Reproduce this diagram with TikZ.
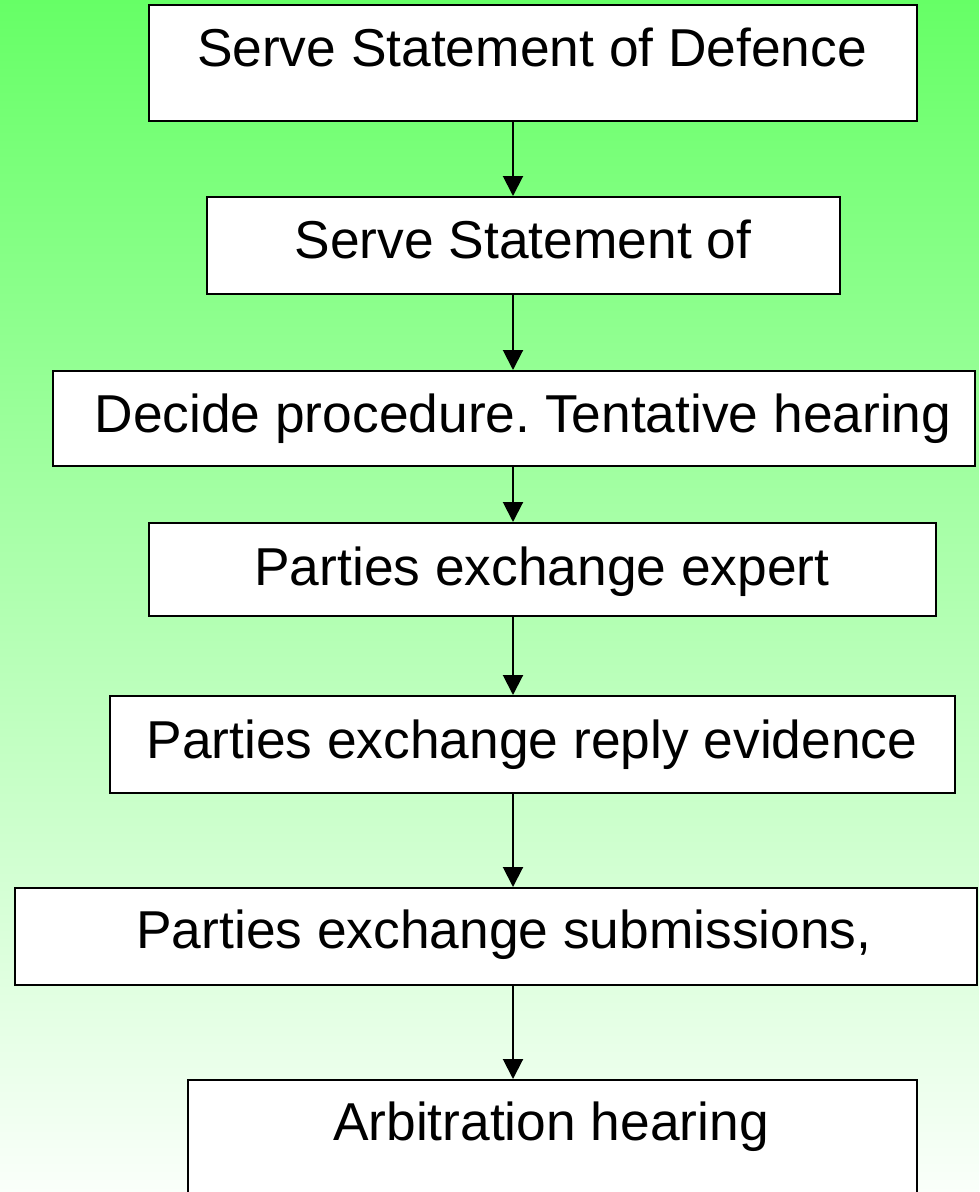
\documentclass[tikz,border=0pt]{standalone}
\usepackage{fontspec}
\setmainfont{Liberation Sans}
\frenchspacing
\usetikzlibrary{arrows.meta,fit}
\definecolor{bgtop}{RGB}{102,255,102}
\definecolor{bgbot}{RGB}{250,255,250}
\begin{document}
\begin{tikzpicture}[x=0.75pt,y=-0.75pt,
  stepbox/.style={draw=black, line width=1.5pt, fill=white, inner sep=0pt},
  lbl/.style={font=\fontsize{40}{48}\selectfont, anchor=base, inner sep=0pt},
  flow/.style={line width=1.5pt, -{Triangle[width=15pt,length=15pt]}}]
\shade[top color=bgtop, bottom color=bgbot] (0,0) rectangle (979,1192);
\useasboundingbox (0,0) rectangle (979,1192);
\coordinate (ax) at (513,0);
% boxes
\node[stepbox, fit={(149,5) (917,121)}] (b1) {};
\node[stepbox, fit={(207,197) (840,294)}] (b2) {};
\node[stepbox, fit={(53,371) (975,466)}] (b3) {};
\node[stepbox, fit={(149,523) (936,616)}] (b4) {};
\node[stepbox, fit={(110,696) (955,793)}] (b5) {};
\node[stepbox, fit={(15,888) (977,985)}] (b6) {};
\node[stepbox, fit={(188,1080) (917,1210)}] (b7) {};
% texts
\node[lbl] (t1) at (532,66) {Serve Statement of Defence};
\node[lbl] (t2) at (523,258) {Serve Statement of};
\node[lbl] (t3) at (523,432) {Decide procedure. Tentative hearing};
\node[lbl] (t4) at (542,585) {Parties exchange expert};
\node[lbl] (t5) at (532,758) {Parties exchange reply evidence};
\node[lbl] (t6) at (504,948) {Parties exchange submissions,};
\node[lbl] (t7) at (551,1140) {Arbitration hearing};
% connectors
\draw[flow] (b1.south -| ax) -- (b2.north -| ax);
\draw[flow] (b2.south -| ax) -- (b3.north -| ax);
\draw[flow] (b3.south -| ax) -- (b4.north -| ax);
\draw[flow] (b4.south -| ax) -- (b5.north -| ax);
\draw[flow] (b5.south -| ax) -- (b6.north -| ax);
\draw[flow] (b6.south -| ax) -- (b7.north -| ax);
\end{tikzpicture}
\end{document}
